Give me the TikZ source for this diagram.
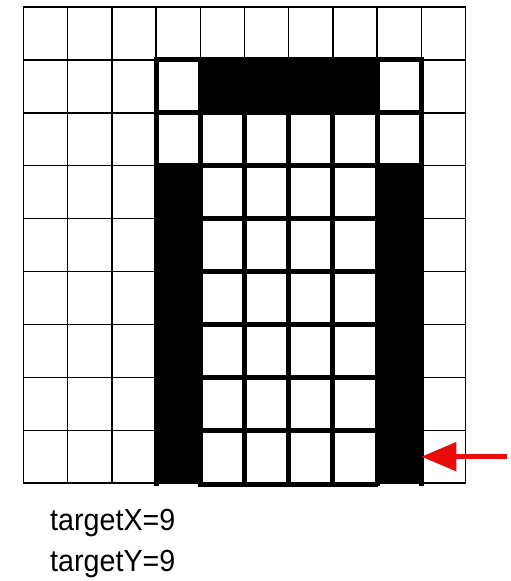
\documentclass[tikz,border=0pt]{standalone}
\usepackage{fontspec}
\setmainfont{Liberation Sans}
\usepackage{tikz}
\usetikzlibrary{arrows.meta, positioning}
\definecolor{markred}{RGB}{232,12,12}

\begin{document}
\begin{tikzpicture}[
    x=1pt, y=-1pt,
    thinline/.style={line width=1.4pt, line cap=rect},
    thickline/.style={line width=5pt, line cap=rect},
    blackcell/.style={fill=black},
    labeltext/.style={anchor=base west, inner sep=0pt, font=\fontsize{30.5}{36}\selectfont},
    redarrow/.style={-{Triangle[length=35pt, width=28pt]}, line width=5pt, markred}
]
\useasboundingbox (0,0) rectangle (511,581);

\begin{scope}[shift={(23.5,7)}, x=44.2pt, y=-52.9pt]
% thin outer grid
\foreach \c in {0,...,10} \draw[thinline] (\c,0) -- (\c,9);
\foreach \r in {0,...,9} \draw[thinline] (0,\r) -- (10,\r);
% black cells
\fill[blackcell] (4,1) rectangle (8,2);
\fill[blackcell] (3,3) rectangle (4,9);
\fill[blackcell] (8,3) rectangle (9,9);
% thick inner grid
\foreach \c in {3,...,9} \draw[thickline] (\c,1) -- (\c,9);
\foreach \r in {1,...,8} \draw[thickline] (3,\r) -- (9,\r);
\draw[thickline, line cap=butt] (3.95,9.03) -- (8.03,9.03);
% arrow ends
\coordinate (target) at (9,8.5);
\coordinate (pointer) at (10.93,8.5);
\node[labeltext] (tx) at (0.6,9.9) {\scalebox{0.94}[1]{targetX=9}};
\node[labeltext] (ty) at (0.6,10.68) {\scalebox{0.94}[1]{targetY=9}};
\end{scope}

\draw[redarrow] (pointer) -- (target);
\end{tikzpicture}
\end{document}
